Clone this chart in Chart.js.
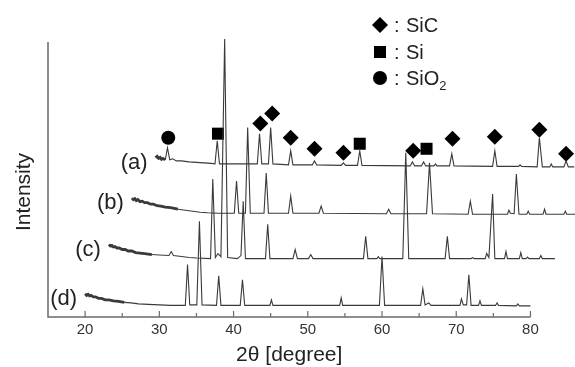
<!DOCTYPE html>
<html>
<head>
<meta charset="utf-8">
<script src="https://cdn.jsdelivr.net/npm/chart.js@4.4.1/dist/chart.umd.min.js"></script>
<style>
  html, body { margin: 0; padding: 0; background: #fff; }
  .xrdChart { width: 575px; height: 367px; position: relative; }
</style>
</head>
<body>
<div class="xrdChart"><canvas></canvas></div>
<script>
// [2theta, intensity (a.u.)], each trace as plotted
const traceA = [
  [29.5, 158], [29.7, 159.5], [29.9, 157.5], [30.1, 158.5], [30.3, 156.5], [30.5, 157.5], [30.8, 156],
  [31.1, 168], [31.4, 156], [31.8, 157], [32.3, 155], [33, 155], [34, 154], [35, 153.5], [36, 153], [37, 152.5],
  [37.5, 152], [37.8, 175], [38.1, 152], [40, 152],
  [43.2, 152], [43.5, 182], [43.8, 152], [44.7, 152], [45.0, 188], [45.3, 152],
  [47.4, 151], [47.7, 165], [48.0, 151], [50.6, 151], [50.9, 155], [51.2, 151],
  [54.5, 150.5], [54.8, 153], [55.1, 150.5], [56.7, 150.5], [57.0, 165], [57.3, 150.5],
  [63.8, 150], [64.1, 154], [64.4, 150], [65.3, 150], [65.6, 154], [65.9, 150],
  [67.0, 150], [67.2, 152], [67.4, 150], [69.1, 150], [69.4, 162], [69.7, 150],
  [74.9, 149.5], [75.2, 165], [75.5, 149.5], [78.4, 149.5], [78.6, 151], [78.8, 149.5],
  [80.9, 149], [81.2, 178], [81.6, 149], [82.6, 149], [82.8, 152], [83.0, 149],
  [84.5, 149], [84.8, 155], [85.1, 149], [85.9, 149]
]
const traceB = [
  [26.3, 118], [26.5, 116.5], [26.7, 117.5], [26.9, 115.5], [27.1, 116.5], [27.4, 114.5], [27.7, 115], [28, 113.5],
  [28.4, 113.5], [28.8, 112], [29.2, 112], [29.7, 110.5], [30.2, 110], [30.8, 109], [31.5, 108.5],
  [32.5, 107], [33.5, 106], [34.5, 105], [35.5, 104], [36.5, 103.5], [38, 103],
  [40.1, 103], [40.4, 135], [40.7, 103], [41.6, 103], [41.9, 188], [42.25, 103],
  [44.1, 103], [44.4, 143], [44.7, 103], [47.4, 103], [47.7, 120], [48.0, 103],
  [51.5, 103], [51.8, 110], [52.1, 103], [60.6, 102.5], [60.9, 107], [61.2, 102.5],
  [66.0, 102.5], [66.4, 153], [66.8, 102.5], [71.6, 102], [71.9, 115], [72.2, 102],
  [76.9, 102], [77.1, 106], [77.3, 103], [77.8, 102.5], [78.1, 142], [78.45, 102],
  [79.5, 102], [79.7, 105], [79.9, 102], [81.7, 102], [81.9, 107], [82.1, 102],
  [84.5, 102], [84.7, 105], [84.9, 102], [86.0, 102]
]
const traceC = [
  [23.2, 72], [23.4, 70.5], [23.6, 71], [23.8, 69.5], [24.0, 70], [24.3, 68.5], [24.6, 68.5], [25, 67],
  [25.4, 67], [25.8, 65.5], [26.3, 65.5], [26.8, 64], [27.4, 63.5], [28, 63], [29, 62], [30, 61.5],
  [31.3, 61], [31.6, 65], [31.9, 61], [33, 60], [34, 59], [35, 58.5],
  [36.9, 58], [37.2, 137], [37.55, 59], [37.9, 63], [38.3, 60], [38.8, 276], [39.2, 59],
  [40.5, 58], [41.0, 61], [41.3, 115], [41.6, 58], [44.3, 58], [44.6, 92], [44.9, 58],
  [48.0, 58], [48.3, 67], [48.6, 58], [50.1, 58], [50.4, 62], [50.7, 58],
  [57.5, 58], [57.8, 80], [58.1, 58], [59.3, 58], [59.5, 60], [59.7, 58],
  [62.8, 58], [63.2, 163], [63.6, 58], [68.5, 58], [68.8, 80], [69.1, 58],
  [72.0, 58], [72.2, 59], [72.4, 58], [73.9, 58], [74.1, 63], [74.4, 59], [74.9, 122], [75.2, 58],
  [76.5, 58], [76.7, 65], [76.9, 58], [78.5, 58], [78.7, 64], [78.9, 58],
  [79.4, 58], [79.6, 59.5], [79.8, 58], [81.2, 58], [81.4, 61], [81.6, 58], [83.3, 58]
]
const traceD = [
  [20.0, 23], [20.2, 21.5], [20.4, 22.5], [20.6, 21], [20.8, 21.5], [21.1, 20], [21.4, 20],
  [21.8, 18.5], [22.2, 18.5], [22.7, 17], [23.2, 17], [23.8, 16], [24.5, 15.5], [25.3, 14.5],
  [26.2, 14], [27.2, 13], [28.5, 12.5], [30, 12], [31.5, 11.5],
  [33.5, 11.5], [33.8, 52], [34.1, 12], [35.05, 12], [35.4, 95], [35.75, 12],
  [37.7, 11.5], [38.0, 41], [38.3, 11.5], [40.9, 11.5], [41.2, 37], [41.5, 11.5],
  [44.9, 11.5], [45.1, 17], [45.3, 11.5], [54.3, 11.5], [54.5, 19], [54.7, 11.5],
  [59.65, 11.5], [60.0, 60], [60.35, 11.5], [65.2, 11.5], [65.5, 28], [65.8, 12], [66.3, 14], [66.6, 11.5],
  [70.5, 11.5], [70.7, 18], [70.95, 12], [71.4, 12], [71.7, 42], [72.0, 11.5],
  [73.0, 11.5], [73.2, 16], [73.4, 11.5], [75.3, 11.5], [75.5, 14], [75.7, 11.5],
  [78.1, 11], [78.3, 13], [78.5, 11], [80.0, 11]
]

// phase markers above trace (a)
const sicMarks = [[43.6, 192], [45.2, 202], [47.7, 178], [50.9, 167], [54.8, 163], [64.2, 165], [69.5, 177], [75.2, 179], [81.2, 186], [84.8, 162]]
const siMarks = [[37.9, 182], [57.0, 172], [66.0, 167]]
const sio2Marks = [[31.2, 178]]

const traceLabels = ['(a)', '(b)', '(c)', '(d)']
const noisyEnd = [30.9, 33, 29, 26]
const xTicks = [20, 30, 40, 50, 60, 70, 80]
const xMinorTicks = [25, 35, 45, 55, 65, 75]
const axisEnd = 80

const lineColor = '#3a3a3a'
const axisColor = '#6a6a6a'
const font = 'Liberation Sans, Arial, sans-serif'

const toXY = arr => arr.map(([x, y]) => ({ x, y }))

const traces = [traceA, traceB, traceC, traceD].map((t, i) => ({
  type: 'line',
  tag: traceLabels[i],
  data: toXY(t),
  borderColor: lineColor,
  borderWidth: 1.1,
  pointRadius: 0,
  tension: 0,
  clip: false,
  segment: {
    borderWidth: ctx => (ctx.p1.parsed.x <= noisyEnd[i] ? 2.8 : 1.1)
  }
}))

const marker = (arr, style, r) => ({
  type: 'scatter',
  data: toXY(arr),
  pointStyle: style,
  pointRadius: r,
  backgroundColor: '#000',
  borderColor: '#000',
  borderWidth: 0,
  showLine: false,
  clip: false
})

const decor = {
  id: 'decor',
  afterDraw(chart) {
    const { ctx, chartArea: a, scales: { x, y } } = chart
    const left = a.left
    const right = x.getPixelForValue(axisEnd)
    ctx.save()
    // axes: left and bottom, bottom stops at 80
    ctx.strokeStyle = axisColor
    ctx.lineWidth = 1.5
    ctx.beginPath()
    ctx.moveTo(left, a.top)
    ctx.lineTo(left, a.bottom)
    ctx.lineTo(right, a.bottom)
    ctx.stroke()

    // ticks point inward
    ctx.lineWidth = 1.2
    xTicks.forEach(v => {
      const px = x.getPixelForValue(v)
      ctx.beginPath(); ctx.moveTo(px, a.bottom); ctx.lineTo(px, a.bottom - 6); ctx.stroke()
    })
    xMinorTicks.forEach(v => {
      const px = x.getPixelForValue(v)
      ctx.beginPath(); ctx.moveTo(px, a.bottom); ctx.lineTo(px, a.bottom - 4); ctx.stroke()
    })

    ctx.fillStyle = '#222'
    ctx.font = '21px ' + font
    ctx.textAlign = 'center'
    ctx.textBaseline = 'middle'
    ctx.fillText('2θ [degree]', (left + right) / 2, 355)
    ctx.save()
    ctx.translate(24, 192)
    ctx.rotate(-Math.PI / 2)
    ctx.fillText('Intensity', 0, 0)
    ctx.restore()

    // trace labels sit just left of each trace start
    ctx.font = '22px ' + font
    ctx.textAlign = 'right'
    chart.data.datasets.forEach(ds => {
      if (!ds.tag) return
      const p = ds.data[0]
      ctx.fillText(ds.tag, x.getPixelForValue(p.x) - 8, y.getPixelForValue(p.y) + 5)
    })

    // legend
    const lx = 380
    ctx.fillStyle = '#000'
    ctx.beginPath()
    ctx.moveTo(lx, 17); ctx.lineTo(lx + 8, 25); ctx.lineTo(lx, 33); ctx.lineTo(lx - 8, 25)
    ctx.closePath(); ctx.fill()
    ctx.fillRect(lx - 6, 46, 12, 12)
    ctx.beginPath(); ctx.arc(lx, 78, 7, 0, Math.PI * 2); ctx.fill()

    ctx.fillStyle = '#222'
    ctx.font = '20px ' + font
    ctx.textAlign = 'left'
    ctx.fillText(':', 394, 26)
    ctx.fillText('SiC', 406, 26)
    ctx.fillText(':', 394, 53)
    ctx.fillText('Si', 406, 53)
    ctx.fillText(':', 394, 79)
    ctx.fillText('SiO', 406, 79)
    const w = ctx.measureText('SiO').width
    ctx.font = '13px ' + font
    ctx.fillText('2', 406 + w, 86)
    ctx.restore()
  }
}

const config = {
  type: 'line',
  data: {
    datasets: [
      ...traces,
      marker(sicMarks, 'rectRot', 8),
      marker(siMarks, 'rect', 8.5),
      marker(sio2Marks, 'circle', 7)
    ]
  },
  options: {
    responsive: true,
    maintainAspectRatio: false,
    animation: false,
    layout: {
      autoPadding: false,
      padding: { left: 48, top: 42, right: 0, bottom: 24 }
    },
    scales: {
      x: {
        type: 'linear',
        min: 15,
        max: 86,
        afterBuildTicks: scale => {
          scale.ticks = xTicks.map(v => ({ value: v }))
        },
        grid: { display: false, drawTicks: false, tickLength: 0 },
        border: { display: false },
        ticks: {
          padding: 4,
          color: '#333',
          font: { family: font, size: 15 }
        }
      },
      y: {
        display: false,
        min: 0,
        max: 273
      }
    },
    plugins: {
      legend: { display: false },
      tooltip: { enabled: false }
    }
  },
  plugins: [decor]
}

const canvas = document.querySelector('.xrdChart canvas')
new Chart(canvas.getContext('2d'), config)
</script>
</body>
</html>
